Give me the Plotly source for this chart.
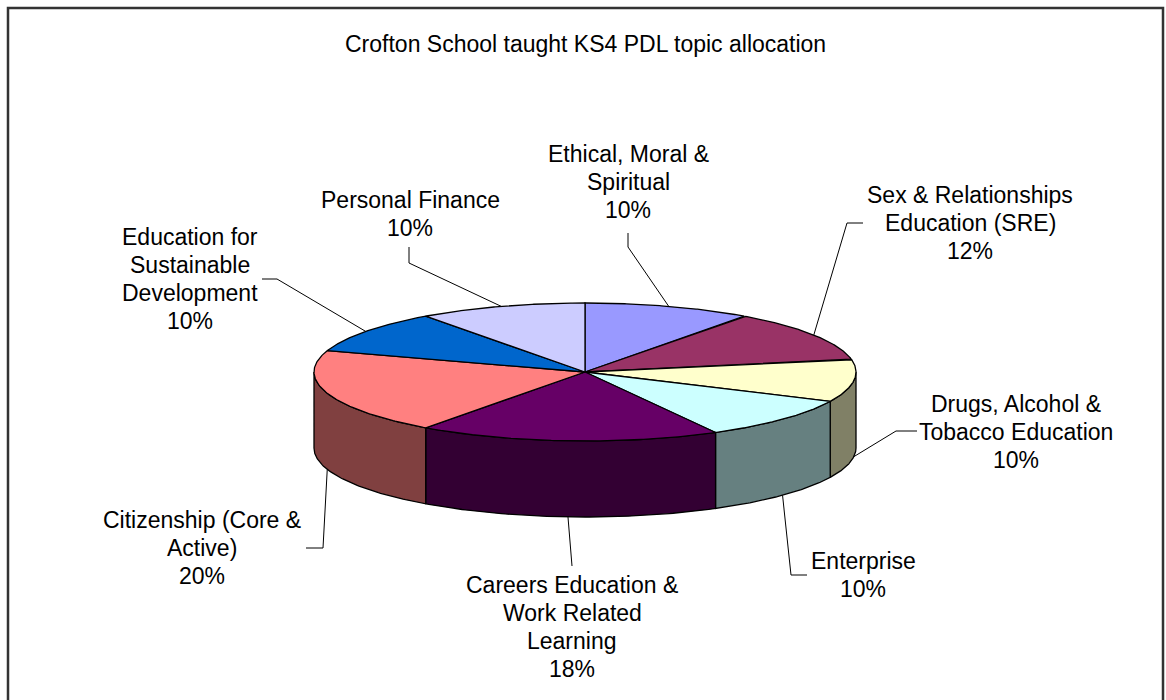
import numpy as np
import plotly.graph_objects as go

# ---------------- data ----------------
topics = [
    "Ethical, Moral &\nSpiritual",
    "Sex & Relationships\nEducation (SRE)",
    "Drugs, Alcohol &\nTobacco Education",
    "Enterprise",
    "Careers Education &\nWork Related\nLearning",
    "Citizenship (Core &\nActive)",
    "Education for\nSustainable\nDevelopment",
    "Personal Finance",
]
shares = [10, 12, 10, 10, 18, 20, 10, 10]
title_text = "Crofton School taught KS4 PDL topic allocation"

# ---------------- styles / layout ----------------
top_colors = ["#9999FF", "#993366", "#FFFFCC", "#CCFFFF", "#660066", "#FF8080", "#0066CC", "#CCCCFF"]
side_colors = ["#4D4D80", "#4D1A33", "#808066", "#668080", "#330033", "#804040", "#003366", "#666680"]

W, H = 1166, 700
CX, CY, RX, RY, DEPTH = 585, 372, 271, 69, 76

# label centre x, first line middle y
label_pos = [(628, 154), (970, 195), (1016, 404), (863, 561), (572, 585), (202, 520), (190, 237), (410, 200)]
# leader: start point near label, elbow
leader_pts = [
    ((628, 233), (628, 247)),
    ((863, 223), (847, 223)),
    ((917, 431), (896, 431)),
    ((807, 575), (791, 575)),
    ((572, 566), (572, 566)),
    ((306, 548), (323, 548)),
    ((262, 279), (277, 279)),
    ((409, 247), (409, 263)),
]
LINE_SP = 28
FONT = "Liberation Sans, Arial, sans-serif"
FS = 23


def pt(theta_deg, dy=0.0):
    t = np.radians(theta_deg)
    return CX + RX * np.sin(t), CY - RY * np.cos(t) + dy


fig = go.Figure()

total = float(sum(shares))
bounds = np.concatenate([[0], np.cumsum(shares) / total * 360.0])

# sides (front half only: 90..270 deg)
for i in range(len(shares)):
    a1, a2 = bounds[i], bounds[i + 1]
    lo, hi = max(a1, 90), min(a2, 270)
    if hi <= lo:
        continue
    th = np.linspace(lo, hi, 80)
    xt, yt = pt(th)
    xb, yb = pt(th[::-1], DEPTH)
    xs = np.concatenate([xt, xb, xt[:1]])
    ys = np.concatenate([yt, yb, yt[:1]])
    fig.add_trace(go.Scatter(x=xs, y=ys, mode="lines", fill="toself",
                             fillcolor=side_colors[i], line=dict(color="black", width=1.3),
                             hoverinfo="skip", showlegend=False))

# tops
for i in range(len(shares)):
    a1, a2 = bounds[i], bounds[i + 1]
    th = np.linspace(a1, a2, 120)
    xa, ya = pt(th)
    xs = np.concatenate([[CX], xa, [CX]])
    ys = np.concatenate([[CY], ya, [CY]])
    fig.add_trace(go.Scatter(x=xs, y=ys, mode="lines", fill="toself",
                             fillcolor=top_colors[i], line=dict(color="black", width=1.3),
                             hoverinfo="skip", showlegend=False))

# leader lines
for i in range(len(shares)):
    mid = (bounds[i] + bounds[i + 1]) / 2
    dy = DEPTH if 90 < mid < 270 else 0
    ex, ey = pt(mid, dy)
    (sx, sy), (kx, ky) = leader_pts[i]
    fig.add_trace(go.Scatter(x=[sx, kx, ex], y=[sy, ky, ey], mode="lines",
                             line=dict(color="black", width=1), hoverinfo="skip", showlegend=False))

# labels
annotations = []
for i, name in enumerate(topics):
    lines = name.split("\n") + [f"{shares[i] / total * 100:.0f}%"]
    lx, ly = label_pos[i]
    for j, ln in enumerate(lines):
        annotations.append(dict(x=lx, y=ly + j * LINE_SP, text=ln, showarrow=False,
                                xanchor="center", yanchor="middle", xref="x", yref="y",
                                font=dict(family=FONT, size=FS, color="black")))

annotations.append(dict(x=585, y=44, text=title_text, showarrow=False, xanchor="center",
                        yanchor="middle", xref="x", yref="y",
                        font=dict(family=FONT, size=FS, color="black")))

fig.update_layout(
    width=W, height=H,
    margin=dict(l=0, r=0, t=0, b=0),
    paper_bgcolor="white", plot_bgcolor="white",
    xaxis=dict(range=[0, W], visible=False, fixedrange=True),
    yaxis=dict(range=[H, 0], visible=False, fixedrange=True),
    annotations=annotations,
    shapes=[dict(type="rect", xref="x", yref="y", x0=8, y0=8, x1=1163, y1=715,
                 line=dict(color="#333333", width=2.5), fillcolor="rgba(0,0,0,0)", layer="above")],
)

fig.write_html(
    "out.html",
    config={"displayModeBar": False},
    post_script="document.body.style.margin='0';document.body.style.overflow='hidden';"
                "document.documentElement.style.overflow='hidden';",
)
